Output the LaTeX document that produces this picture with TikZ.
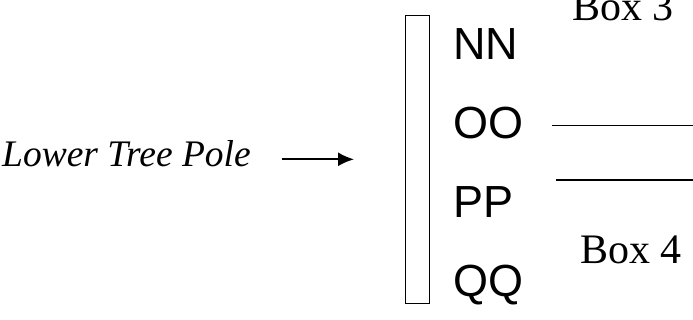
\documentclass[tikz,border=0pt]{standalone}
\usepackage{fontspec}
\setmainfont{Liberation Serif}
\setsansfont{Liberation Sans}
\usepackage{tikz}
\usetikzlibrary{arrows.meta}

\begin{document}
\begin{tikzpicture}[x=1pt, y=-1pt,
					label/.style={inner sep=0pt, anchor=base west},
					code/.style={label, font=\sffamily\fontsize{45}{45}\selectfont},
					boxname/.style={label, font=\fontsize{42}{42}\selectfont},]
					\useasboundingbox (0,0) rectangle (693,320);

					\node[label, font=\itshape\fontsize{37.5}{37.5}\selectfont] (pole) at (2,166.7) {Lower Tree Pole};
					\coordinate (tail) at (282,159.3);
					\coordinate (tip) at (354,159.3);
					\draw[-{Latex[length=16pt, width=14pt]}, line width=1.8pt] (tail) -- (tip);

					\node[draw, line width=1pt, minimum width=24pt, minimum height=287pt, inner sep=0pt] (bar) at (417,159.5) {};

					\node[code] (NN) at (453,60) {NN};
					\node[code] (OO) at (453,139) {OO};
					\node[code] (PP) at (453,218) {PP};
					\node[code] (QQ) at (453,296) {QQ};

					\node[boxname] (box3) at (572,20.7) {Box 3};
					\node[boxname] (box4) at (580,263.3) {Box 4};

					\coordinate (a) at (552,125.7);
					\coordinate (b) at (693,125.7);
					\coordinate (c) at (556,180);
					\coordinate (d) at (693,180);
					\draw[line width=1.2pt] (a) -- (b);
					\draw[line width=1.2pt] (c) -- (d);
				\end{tikzpicture}
\end{document}
